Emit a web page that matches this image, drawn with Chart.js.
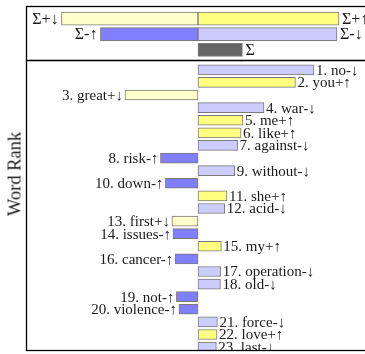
<!DOCTYPE html>
<html>
<head>
<meta charset="utf-8">
<script src="https://cdn.jsdelivr.net/npm/chart.js@4/dist/chart.umd.min.js"></script>
<style>
  html, body { margin: 0; padding: 0; background: #fff; overflow: hidden; }
  #wrap { position: relative; width: 365px; height: 354px; overflow: hidden; }
  #sum-chart { position: absolute; left: 0; top: 0; }
  #word-chart { position: absolute; left: 0; top: 57px; }
  #rank-title {
    position: absolute; left: 15px; top: 174px;
    transform: translate(-50%, -50%) rotate(-90deg);
    font: 18.5px "Liberation Serif", serif; color: #1a1a1a; white-space: nowrap;
  }
</style>
</head>
<body>
<div id="wrap">
  <canvas id="sum-chart" width="372" height="64"></canvas>
  <canvas id="word-chart" width="372" height="297"></canvas>
  <div id="rank-title">Word Rank</div>
</div>
<script>
// summary panel
const sumLabels = ['Σ+↓', 'Σ+↑', 'Σ-↑', 'Σ-↓', 'Σ']
const sumRows = [1, 1, 2, 2, 3]
const sumShifts = [-0.796, 0.822, -0.569, 0.810, 0.259]

// word panel
const words = ['no', 'you', 'great', 'war', 'me', 'like', 'against', 'risk', 'without', 'down',
  'she', 'acid', 'first', 'issues', 'my', 'cancer', 'operation', 'old', 'not', 'violence',
  'force', 'love', 'last']
const kinds = ['-↓', '+↑', '+↓', '-↓', '+↑', '+↑', '-↓', '-↑', '-↓', '-↑',
  '+↑', '-↓', '+↓', '-↑', '+↑', '-↑', '-↓', '-↓', '-↑', '-↑',
  '-↓', '+↑', '-↓']
const shifts = [0.676, 0.568, -0.426, 0.385, 0.262, 0.251, 0.231, -0.219, 0.214, -0.190,
  0.169, 0.156, -0.152, -0.146, 0.136, -0.132, 0.132, 0.131, -0.126, -0.111,
  0.113, 0.111, 0.107]

const kindColor = {
  '+↑': '#ffff80',
  '+↓': '#ffffcc',
  '-↑': '#7f7fff',
  '-↓': '#ccccff',
  '': '#666666'
}

const serif = '"Liberation Serif", serif'

const barLabels = {
  id: 'barLabels',
  afterDatasetsDraw(chart, args, opts) {
    const ctx = chart.ctx
    const area = chart.chartArea
    const points = chart.data.datasets[0].data
    ctx.save()
    ctx.beginPath()
    ctx.rect(0, area.top, chart.width, area.bottom - area.top)
    ctx.clip()
    ctx.font = opts.font
    ctx.fillStyle = '#1a1a1a'
    ctx.textBaseline = 'middle'
    chart.getDatasetMeta(0).data.forEach((bar, i) => {
      if (points[i].x >= 0) {
        ctx.textAlign = 'left'
        ctx.fillText(opts.labels[i], bar.x + opts.gap, bar.y + 1)
      } else {
        ctx.textAlign = 'right'
        ctx.fillText(opts.labels[i], bar.x - opts.gap, bar.y + 1)
      }
    })
    ctx.restore()
  }
}

const frame = {
  id: 'frame',
  afterDraw(chart) {
    const ctx = chart.ctx
    const a = chart.chartArea
    ctx.save()
    ctx.strokeStyle = '#000'
    ctx.lineWidth = 1.3
    ctx.strokeRect(a.left, a.top, a.right - a.left, a.bottom - a.top)
    ctx.restore()
  }
}

const makeOptions = (yMin, yMax, pad, labels, gap, size) => ({
  indexAxis: 'y',
  responsive: false,
  animation: false,
  layout: { padding: pad },
  scales: {
    x: { type: 'linear', min: -1, max: 1, display: false },
    y: { type: 'linear', min: yMin, max: yMax, reverse: true, offset: false, display: false }
  },
  plugins: {
    legend: { display: false },
    tooltip: { enabled: false },
    barLabels: { labels: labels, font: size + 'px ' + serif, gap: gap }
  }
})

const sumKinds = sumLabels.map(l => l.slice(1))
const sumChart = new Chart(document.querySelector('#sum-chart').getContext('2d'), {
  type: 'bar',
  data: {
    datasets: [{
      data: sumShifts.map((v, i) => ({ x: v, y: sumRows[i] })),
      backgroundColor: sumKinds.map(k => kindColor[k]),
      borderColor: '#7a7a7a',
      borderWidth: 1,
      borderSkipped: false,
      barThickness: 13
    }]
  },
  options: makeOptions(0.23, 3.68, { left: 26.5, right: 2.5, top: 6.5, bottom: 3.5 }, sumLabels, 3, 16),
  plugins: [barLabels, frame]
})

const wordLabels = words.map((w, i) => (i + 1) + '. ' + w + kinds[i])
const wordChart = new Chart(document.querySelector('#word-chart').getContext('2d'), {
  type: 'bar',
  data: {
    datasets: [{
      data: shifts.map((v, i) => ({ x: v, y: i + 1 })),
      backgroundColor: kinds.map(k => kindColor[k]),
      borderColor: '#7a7a7a',
      borderWidth: 1,
      borderSkipped: false,
      barThickness: 10
    }]
  },
  options: makeOptions(0.26, 23.27, { left: 26.5, right: 2.5, top: 3.5, bottom: 3.5 }, wordLabels, 2, 15),
  plugins: [barLabels, frame]
})
</script>
</body>
</html>
